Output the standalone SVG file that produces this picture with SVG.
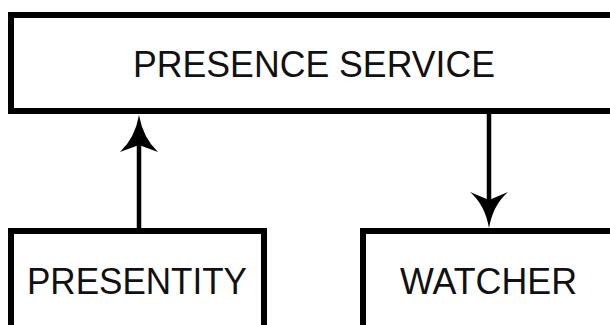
<svg xmlns="http://www.w3.org/2000/svg" width="610" height="325" viewBox="0 0 610 325">
  <style>
    .box { fill: #ffffff; stroke: #000000; stroke-width: 6; }
    .label { font-family: "Liberation Sans", Arial, Helvetica, sans-serif; font-size: 37px; fill: #111111; text-anchor: middle; }
    .wire { stroke: #000000; stroke-width: 4.5; fill: none; }
    .head { fill: #000000; stroke: none; }
  </style>
  <rect width="610" height="325" fill="#ffffff"/>

  <g id="presence-service">
    <rect class="box" x="11" y="15" width="620" height="96"/>
    <text class="label" x="314" y="77" textLength="362" lengthAdjust="spacingAndGlyphs">PRESENCE SERVICE</text>
  </g>

  <g id="presentity">
    <rect class="box" x="11" y="231" width="253" height="120"/>
    <text class="label" x="137" y="294" textLength="220" lengthAdjust="spacingAndGlyphs">PRESENTITY</text>
  </g>

  <g id="watcher">
    <rect class="box" x="363" y="231" width="250" height="120"/>
    <text class="label" x="488.5" y="294" textLength="177" lengthAdjust="spacingAndGlyphs">WATCHER</text>
  </g>

  <g id="connectors">
    <!-- presentity publishes to the service -->
    <line class="wire" x1="139" y1="229" x2="139" y2="140"/>
    <path class="head" d="M139 115 Q143 138 158 152 L139 145 L120 152 Q135 138 139 115 Z"/>
    <!-- service notifies the watcher -->
    <line class="wire" x1="489" y1="113" x2="489" y2="200"/>
    <path class="head" d="M489 228 Q485 205 470 192 L489 200 L508 192 Q493 205 489 228 Z"/>
  </g>
</svg>
